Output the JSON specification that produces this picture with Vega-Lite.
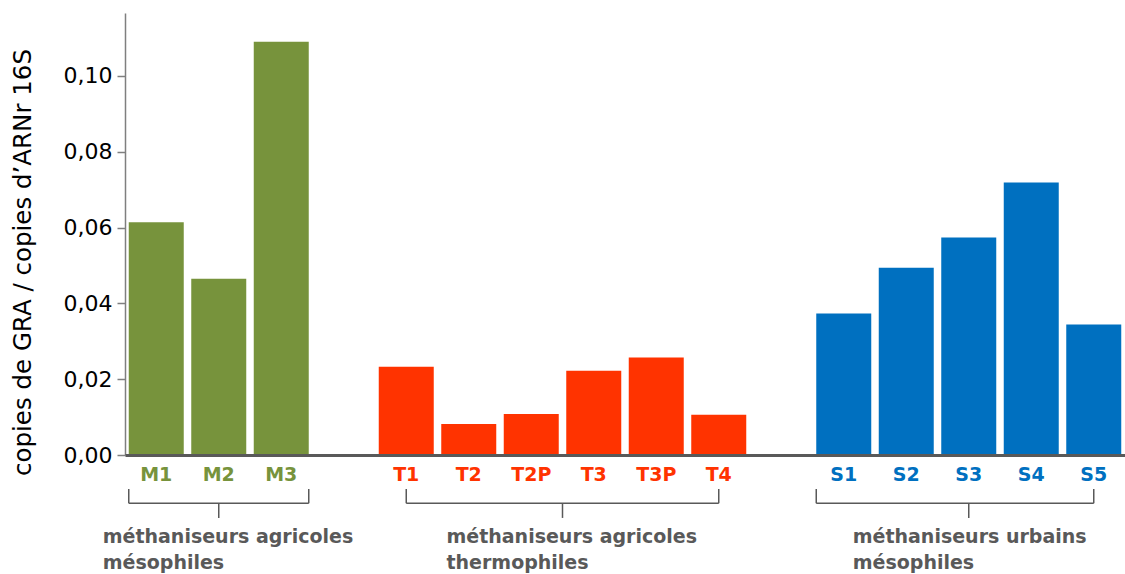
{
  "$schema": "https://vega.github.io/schema/vega-lite/v6.json",
  "width": 1000,
  "height": 442,
  "padding": {"left": 10, "top": 13, "right": 0, "bottom": 0},
  "autosize": {"type": "pad"},
  "config": {"view": {"stroke": null}, "font": "DejaVu Sans"},
  "datasets": {
    "bars": [
      {"cat": "M1", "grp": "M", "value": 0.0614},
      {"cat": "M2", "grp": "M", "value": 0.0465},
      {"cat": "M3", "grp": "M", "value": 0.109},
      {"cat": "T1", "grp": "T", "value": 0.0233},
      {"cat": "T2", "grp": "T", "value": 0.0082},
      {"cat": "T2P", "grp": "T", "value": 0.0108},
      {"cat": "T3", "grp": "T", "value": 0.0222},
      {"cat": "T3P", "grp": "T", "value": 0.0257},
      {"cat": "T4", "grp": "T", "value": 0.0106},
      {"cat": "S1", "grp": "S", "value": 0.0373},
      {"cat": "S2", "grp": "S", "value": 0.0494},
      {"cat": "S3", "grp": "S", "value": 0.0574},
      {"cat": "S4", "grp": "S", "value": 0.0719},
      {"cat": "S5", "grp": "S", "value": 0.0344}
    ],
    "groups": [
      {"grp": "M", "start": "M1", "end": "M3", "mid": "M2", "label": "méthaniseurs agricoles\nmésophiles"},
      {"grp": "T", "start": "T1", "end": "T4", "mid": "T3", "label": "méthaniseurs agricoles\nthermophiles"},
      {"grp": "S", "start": "S1", "end": "S5", "mid": "S3", "label": "méthaniseurs urbains\nmésophiles"}
    ]
  },
  "layer": [
    {
      "data": {"name": "bars"},
      "mark": {"type": "bar", "width": {"band": 0.88}},
      "encoding": {
        "x": {
          "field": "cat", "type": "nominal",
          "scale": {"domain": ["M1","M2","M3","g1","T1","T2","T2P","T3","T3P","T4","g2","S1","S2","S3","S4","S5"], "paddingInner": 0, "paddingOuter": 0},
          "axis": {"title": null, "labels": false, "ticks": false, "domainColor": "#595959", "domainWidth": 3, "zindex": 1}
        },
        "y": {
          "field": "value", "type": "quantitative",
          "scale": {"domain": [0, 0.1166], "nice": false},
          "axis": {
            "title": "copies de GRA / copies d’ARNr 16S",
            "values": [0, 0.02, 0.04, 0.06, 0.08, 0.1],
            "format": ".2f",
            "labelExpr": "replace(datum.label, '.', ',')",
            "labelFontSize": 22, "labelColor": "#000000", "labelPadding": 5,
            "tickColor": "#7f7f7f", "tickSize": 8, "tickWidth": 1.5,
            "domainColor": "#7f7f7f", "domainWidth": 1.5,
            "titleFontSize": 24.5, "titleFontWeight": "normal", "titleColor": "#000000", "titlePadding": 28,
            "titleY": 249,
            "grid": false
          }
        },
        "color": {
          "field": "grp", "type": "nominal",
          "scale": {"domain": ["M", "T", "S"], "range": ["#77933C", "#FF3300", "#0070C0"]},
          "legend": null
        }
      }
    },
    {
      "data": {"name": "bars"},
      "mark": {"type": "text", "fontWeight": "bold", "fontSize": 19, "baseline": "middle"},
      "encoding": {
        "x": {"field": "cat", "type": "nominal"},
        "y": {"datum": -0.0052},
        "text": {"field": "cat"},
        "color": {"field": "grp", "type": "nominal", "legend": null}
      }
    },
    {
      "data": {"name": "groups"},
      "transform": [{"filter": "datum.grp != 'T'"}],
      "mark": {"type": "rule", "color": "#595959", "strokeWidth": 1.5},
      "encoding": {"x": {"field": "start", "type": "nominal", "bandPosition": 0.06}, "y": {"datum": -0.009}, "y2": {"datum": -0.0127}}
    },
    {
      "data": {"name": "groups"},
      "transform": [{"filter": "datum.grp == 'T'"}],
      "mark": {"type": "rule", "color": "#595959", "strokeWidth": 1.5},
      "encoding": {"x": {"field": "start", "type": "nominal"}, "y": {"datum": -0.009}, "y2": {"datum": -0.0127}}
    },
    {
      "data": {"name": "groups"},
      "transform": [{"filter": "datum.grp == 'M'"}],
      "mark": {"type": "rule", "color": "#595959", "strokeWidth": 1.5},
      "encoding": {"x": {"field": "end", "type": "nominal", "bandPosition": 0.94}, "y": {"datum": -0.009}, "y2": {"datum": -0.0127}}
    },
    {
      "data": {"name": "groups"},
      "transform": [{"filter": "datum.grp != 'M'"}],
      "mark": {"type": "rule", "color": "#595959", "strokeWidth": 1.5},
      "encoding": {"x": {"field": "end", "type": "nominal"}, "y": {"datum": -0.009}, "y2": {"datum": -0.0127}}
    },
    {
      "data": {"name": "groups"},
      "transform": [{"filter": "datum.grp == 'M'"}],
      "mark": {"type": "rule", "color": "#595959", "strokeWidth": 1.5},
      "encoding": {"x": {"field": "start", "type": "nominal", "bandPosition": 0.06}, "x2": {"field": "end", "bandPosition": 0.94}, "y": {"datum": -0.0127}}
    },
    {
      "data": {"name": "groups"},
      "transform": [{"filter": "datum.grp == 'T'"}],
      "mark": {"type": "rule", "color": "#595959", "strokeWidth": 1.5},
      "encoding": {"x": {"field": "start", "type": "nominal"}, "x2": {"field": "end"}, "y": {"datum": -0.0127}}
    },
    {
      "data": {"name": "groups"},
      "transform": [{"filter": "datum.grp == 'S'"}],
      "mark": {"type": "rule", "color": "#595959", "strokeWidth": 1.5},
      "encoding": {"x": {"field": "start", "type": "nominal", "bandPosition": 0.06}, "x2": {"field": "end", "bandPosition": 0.5}, "y": {"datum": -0.0127}}
    },
    {
      "data": {"name": "groups"},
      "transform": [{"filter": "datum.grp != 'T'"}],
      "mark": {"type": "rule", "color": "#595959", "strokeWidth": 1.5},
      "encoding": {"x": {"field": "mid", "type": "nominal"}, "y": {"datum": -0.0127}, "y2": {"datum": -0.0166}}
    },
    {
      "data": {"name": "groups"},
      "transform": [{"filter": "datum.grp == 'T'"}],
      "mark": {"type": "rule", "color": "#595959", "strokeWidth": 1.5},
      "encoding": {"x": {"field": "mid", "type": "nominal", "bandPosition": 0}, "y": {"datum": -0.0127}, "y2": {"datum": -0.0166}}
    },
    {
      "data": {"name": "groups"},
      "transform": [{"filter": "datum.grp != 'T'"}],
      "mark": {"type": "text", "fontWeight": "bold", "fontSize": 19, "color": "#595959", "align": "left", "baseline": "alphabetic", "dx": -116, "lineBreak": "\n", "lineHeight": 26},
      "encoding": {"x": {"field": "mid", "type": "nominal"}, "y": {"datum": -0.0232}, "text": {"field": "label"}}
    },
    {
      "data": {"name": "groups"},
      "transform": [{"filter": "datum.grp == 'T'"}],
      "mark": {"type": "text", "fontWeight": "bold", "fontSize": 19, "color": "#595959", "align": "left", "baseline": "alphabetic", "dx": -116, "lineBreak": "\n", "lineHeight": 26},
      "encoding": {"x": {"field": "mid", "type": "nominal", "bandPosition": 0}, "y": {"datum": -0.0232}, "text": {"field": "label"}}
    }
  ]
}
